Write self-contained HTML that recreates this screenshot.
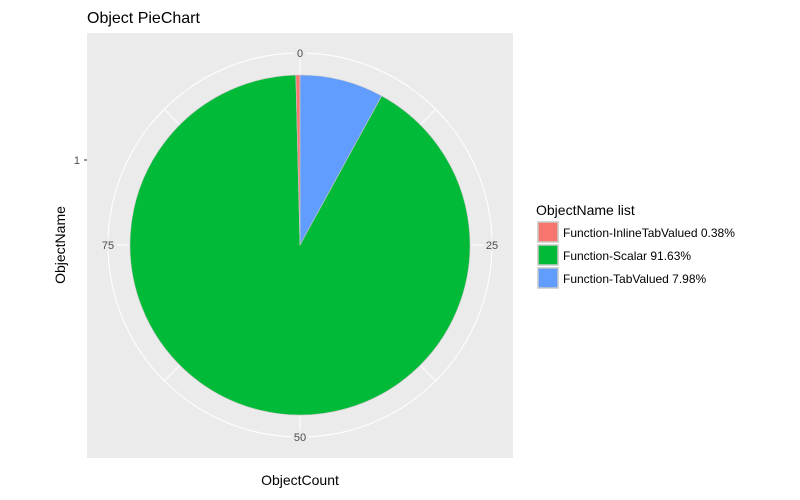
<!DOCTYPE html>
<html><head><meta charset="utf-8"><style>
body{margin:0;background:#fff;width:800px;height:495px;overflow:hidden;font-family:"Liberation Sans",Arial,sans-serif}
</style></head><body>
<svg width="800" height="495" xmlns="http://www.w3.org/2000/svg">
<text x="87" y="23" font-size="16" fill="#000">Object PieChart</text>
<rect x="87" y="33" width="426" height="425" fill="#ebebeb"/>
<g id="grid"></g>
<g id="slices"></g>
<g id="ticks"></g>
<text x="80" y="164" font-size="11" fill="#4d4d4d" text-anchor="end">1</text>
<line x1="84" y1="160" x2="87" y2="160" stroke="#333"/>
<text transform="translate(65,245) rotate(-90)" font-size="14" text-anchor="middle" fill="#000">ObjectName</text>
<text x="300" y="485" font-size="14" text-anchor="middle" fill="#000">ObjectCount</text>
<text x="536" y="215" font-size="14" fill="#000">ObjectName list</text>
<g id="legend"></g>
</svg>
<script>
const categories=["Function-InlineTabValued","Function-Scalar","Function-TabValued"];
const values=[0.38,91.63,7.98];
const colors=["#f8766d","#00ba38","#619cff"];
const tickValues=[0,25,50,75];
const tickLabels=["0","25","50","75"];
const NS="http://www.w3.org/2000/svg";
const cx=300,cy=245,R=170,Rout=192,scaleMax=100;
function ang(v){return v/scaleMax*2*Math.PI;}
function pt(v,r){const a=ang(v);return [cx+r*Math.sin(a),cy-r*Math.cos(a)];}
function mk(tag,attrs,parent){const e=document.createElementNS(NS,tag);for(const k in attrs)e.setAttribute(k,attrs[k]);parent.appendChild(e);return e;}
const grid=document.getElementById('grid');
const oc=mk('circle',{cx:cx,cy:cy,r:Rout,fill:'none',stroke:'#fff','stroke-width':1},grid);


for(let v=0;v<scaleMax;v+=12.5){const a=pt(v,0),b=pt(v,Rout);
 const l=mk('line',{x1:a[0],y1:a[1],x2:b[0],y2:b[1],stroke:'#fff','stroke-width':1},grid);
 
 }
const slices=document.getElementById('slices');
let start=0;
for(let i=categories.length-1;i>=0;i--){
 const s=start,e=start+values[i];start=e;
 const p0=pt(s,R),p1=pt(e,R);const large=(e-s)>scaleMax/2?1:0;
 const p=mk('path',{d:`M${cx},${cy}L${p0[0]},${p0[1]}A${R},${R} 0 ${large} 1 ${p1[0]},${p1[1]}Z`,fill:colors[i],stroke:'#c8c8c8','stroke-width':0.6},slices);
 
 
}
const ticks=document.getElementById('ticks');
tickValues.forEach((v,i)=>{const q=pt(v,Rout);
 const w=tickLabels[i].length*6.5+4;
 const bg=mk('rect',{x:q[0]-w/2,y:q[1]-6,width:w,height:12,fill:'#ebebeb'},ticks);
 
 
 const t=mk('text',{x:q[0],y:q[1]+4,'font-size':11,fill:'#4d4d4d','text-anchor':'middle'},ticks);
 t.textContent=tickLabels[i];
 
 });
const leg=document.getElementById('legend');
categories.forEach((c,i)=>{const y=222+i*23;
 const r=mk('rect',{x:538,y:y,width:20,height:20,fill:colors[i],stroke:'#c8c8c8','stroke-width':1.5},leg);
 
 
 const t=mk('text',{x:563,y:y+15,'font-size':12,fill:'#000'},leg);
 t.textContent=c+' '+values[i].toFixed(2)+'%';
 
 });
</script>
</body></html>
